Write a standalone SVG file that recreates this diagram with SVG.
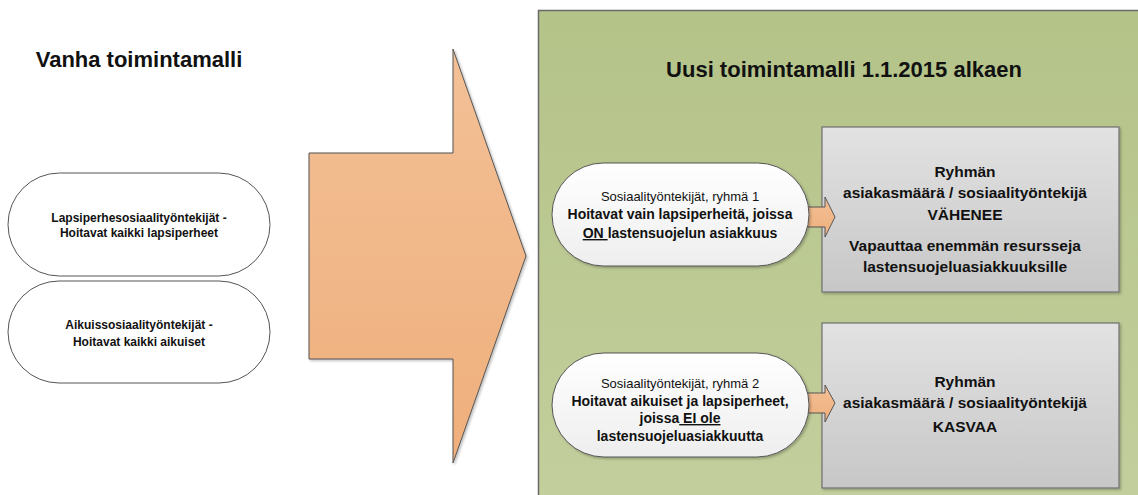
<svg xmlns="http://www.w3.org/2000/svg" width="1138" height="495" viewBox="0 0 1138 495">
<defs>
<linearGradient id="gPanel" x1="0" y1="0" x2="0" y2="1"><stop offset="0" stop-color="#b4c388"/><stop offset="1" stop-color="#c3cf9d"/></linearGradient>
<linearGradient id="gGray" x1="0" y1="0" x2="0" y2="1"><stop offset="0" stop-color="#e2e2e2"/><stop offset="1" stop-color="#c7c7c7"/></linearGradient>
<linearGradient id="gOrange" x1="0" y1="0" x2="0" y2="1"><stop offset="0" stop-color="#f3c096"/><stop offset="1" stop-color="#efaf7c"/></linearGradient>
<linearGradient id="gPill" x1="0" y1="0" x2="0" y2="1"><stop offset="0" stop-color="#ffffff"/><stop offset="1" stop-color="#eeeeee"/></linearGradient>
<filter id="sh" x="-5%" y="-5%" width="115%" height="115%"><feDropShadow dx="1.5" dy="1.5" stdDeviation="1" flood-color="#000" flood-opacity="0.25"/></filter>
</defs>
<style>
text{font-family:"Liberation Sans",Arial,sans-serif;fill:#111;text-anchor:middle}
.title{font-size:22px;font-weight:bold}
.pill{fill:url(#gPill);stroke:#555;stroke-width:1}
.pillL{fill:#fff;stroke:#555;stroke-width:1}
.box{fill:url(#gGray);stroke:#707070;stroke-width:1.2}
.arr{fill:url(#gOrange);stroke:#555;stroke-width:1}
.b12{font-size:12px;font-weight:bold}
.n13{font-size:13px}
.b14{font-size:14px;font-weight:bold}
.b15{font-size:15.5px;font-weight:bold}
.u{text-decoration:underline}
</style>
<rect x="0" y="0" width="1138" height="495" fill="#fff"/>
<g id="panel">
<rect x="538.5" y="10.5" width="640" height="500" fill="url(#gPanel)" stroke="#6b6b6b" stroke-width="1.5" filter="url(#sh)"/>
</g>
<text class="title" x="139" y="67">Vanha toimintamalli</text>
<text class="title" x="844" y="77">Uusi toimintamalli 1.1.2015 alkaen</text>
<g id="bigArrow">
<polygon class="arr" filter="url(#sh)" points="309,153 453,153 453,49 526,256 453,463 453,359 309,359"/>
</g>
<g id="old1">
<rect class="pillL" x="8" y="173" width="262" height="103" rx="51.5" ry="51.5"/>
<text class="b12" x="139" y="222">Lapsiperhesosiaalityöntekijät -</text>
<text class="b12" x="139" y="237">Hoitavat kaikki lapsiperheet</text>
</g>
<g id="old2">
<rect class="pillL" x="8" y="281" width="262" height="102" rx="51" ry="51"/>
<text class="b12" x="139" y="329">Aikuissosiaalityöntekijät -</text>
<text class="b12" x="139" y="346">Hoitavat kaikki aikuiset</text>
</g>
<g id="result1">
<rect class="box" x="822" y="127" width="297" height="165" filter="url(#sh)"/>
<text class="b15" x="965" y="177">Ryhmän</text>
<text class="b15" x="965" y="198">asiakasmäärä / sosiaalityöntekijä</text>
<text class="b15" x="965" y="220">VÄHENEE</text>
<text class="b15" x="965" y="251">Vapauttaa enemmän resursseja</text>
<text class="b15" x="965" y="272">lastensuojeluasiakkuuksille</text>
</g>
<g id="result2">
<rect class="box" x="822" y="323" width="297" height="165" filter="url(#sh)"/>
<text class="b15" x="965" y="387">Ryhmän</text>
<text class="b15" x="965" y="408">asiakasmäärä / sosiaalityöntekijä</text>
<text class="b15" x="965" y="432">KASVAA</text>
</g>
<g id="connectors">
<polygon class="arr" points="800,207 825,207 825,197 835,217 825,237 825,227 800,227"/>
<polygon class="arr" points="800,393 825,393 825,385 835,403 825,422 825,413 800,413"/>
</g>
<g id="group1">
<rect class="pill" x="552" y="163" width="257" height="103" rx="51.5" ry="51.5" filter="url(#sh)"/>
<text class="n13" x="680" y="201">Sosiaalityöntekijät, ryhmä 1</text>
<text class="b14" x="680" y="219">Hoitavat vain lapsiperheitä, joissa</text>
<text class="b14" x="680" y="238"><tspan class="u">ON </tspan>lastensuojelun asiakkuus</text>
</g>
<g id="group2">
<rect class="pill" x="552" y="353" width="257" height="104" rx="52" ry="52" filter="url(#sh)"/>
<text class="n13" x="680" y="388">Sosiaalityöntekijät, ryhmä 2</text>
<text class="b14" x="680" y="406">Hoitavat aikuiset ja lapsiperheet,</text>
<text class="b14" x="680" y="423">joissa<tspan class="u"> EI ole</tspan></text>
<text class="b14" x="680" y="441">lastensuojeluasiakkuutta</text>
</g>
</svg>
